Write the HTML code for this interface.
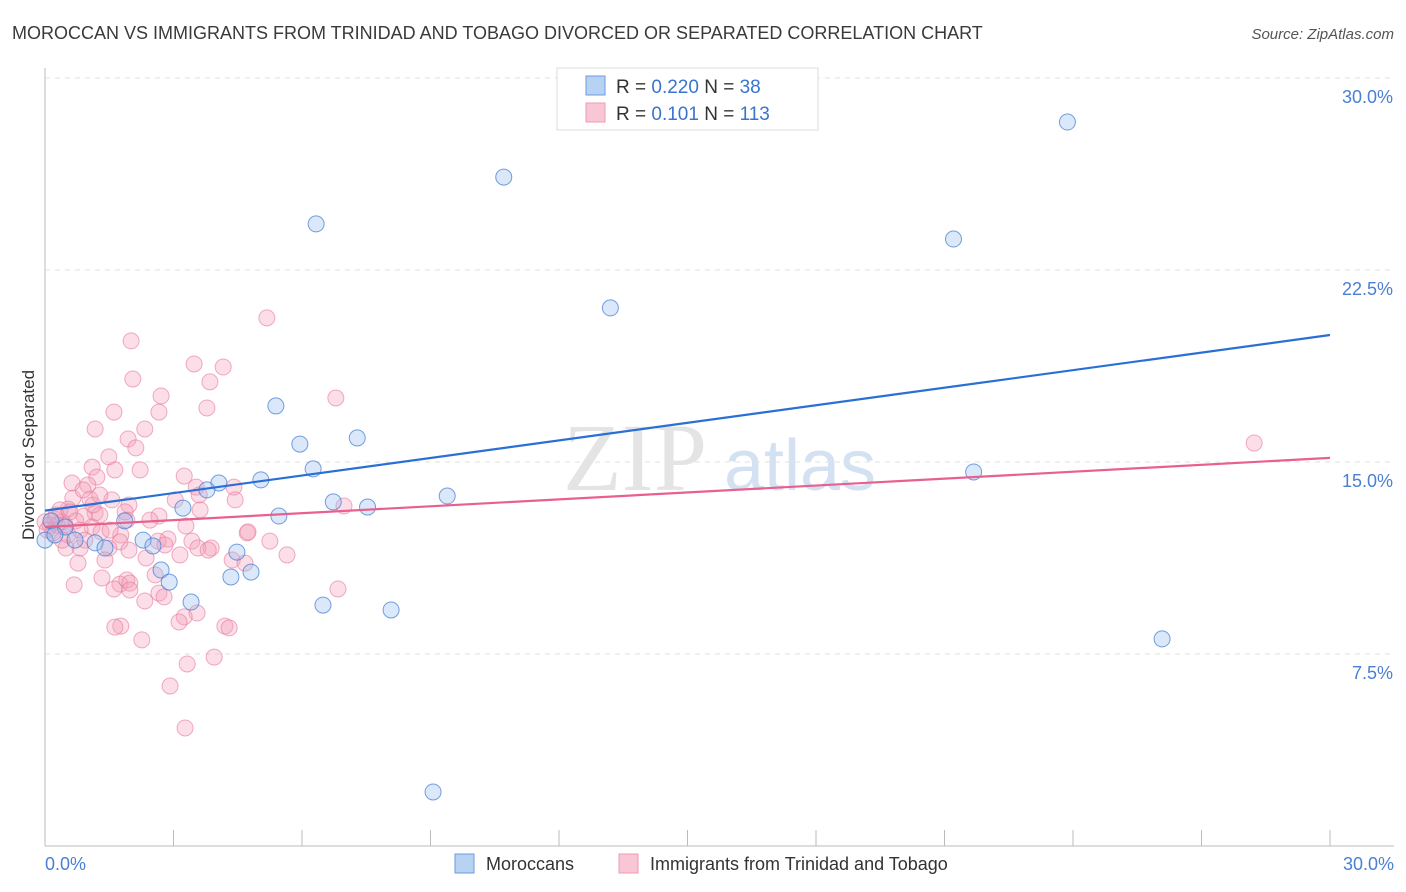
<!DOCTYPE html>
<html><head><meta charset="utf-8"><style>
body{margin:0;background:#fff;font-family:"Liberation Sans",sans-serif;}
svg{display:block}
</style></head><body>
<svg id="chart" width="1406" height="892" xmlns="http://www.w3.org/2000/svg">
<text x="12" y="39" font-size="18" fill="#3a3a3a">MOROCCAN VS IMMIGRANTS FROM TRINIDAD AND TOBAGO DIVORCED OR SEPARATED CORRELATION CHART</text>
<text x="1394" y="39" font-size="15" fill="#555" font-style="italic" text-anchor="end">Source: ZipAtlas.com</text>
<g>
<text x="635" y="490" font-size="96" fill="#e4e4e4" font-family="Liberation Serif,serif" text-anchor="middle">ZIP</text>
<text x="800" y="490" font-size="72" fill="#d3e1f2" text-anchor="middle">atlas</text>
</g>
<g id="grid"></g>
<g id="axes"></g>
<g id="pts"></g>
<g id="lines"></g>
<text x="34" y="455" font-size="17" fill="#333" text-anchor="middle" transform="rotate(-90 34 455)">Divorced or Separated</text>
<text x="45" y="870" font-size="18" fill="#4a7fd4">0.0%</text>
<text x="1394" y="870" font-size="18" fill="#4a7fd4" text-anchor="end">30.0%</text>
<g>
<rect x="557" y="68" width="261" height="62" fill="#fff" stroke="#ddd"/>
<rect x="586" y="76" width="19" height="19" fill="#b8d2f3" stroke="#6e9be0"/>
<rect x="586" y="103" width="19" height="19" fill="#f8c6d4" stroke="#ef9ab4"/>
<text x="616" y="93" font-size="19" fill="#333">R = <tspan fill="#3a74d0">0.220</tspan>   N =  <tspan fill="#3a74d0">38</tspan></text>
<text x="616" y="120" font-size="19" fill="#333">R =  <tspan fill="#3a74d0">0.101</tspan>   N = <tspan fill="#3a74d0">113</tspan></text>
</g>
<g>
<rect x="455" y="854" width="19" height="19" fill="#b8d2f3" stroke="#6e9be0"/>
<text x="486" y="870" font-size="18" fill="#333">Moroccans</text>
<rect x="619" y="854" width="19" height="19" fill="#f8c6d4" stroke="#ef9ab4"/>
<text x="650" y="870" font-size="18" fill="#333">Immigrants from Trinidad and Tobago</text>
</g>
</svg>
<script>
const yTicks=[7.5,15,22.5,30];
const yTickLabels=["7.5%","15.0%","22.5%","30.0%"];
const xTicks=[0,3,6,9,12,15,18,21,24,27,30];
// Moroccans [x%, y%]
const blueX=[23.87,10.71,6.33,21.21,13.2,5.39,7.29,5.95,6.26,5.04,4.06,3.78,21.68,9.39,6.73,7.53,3.22,5.46,1.86,0.14,0.47,0,0.7,1.17,2.29,1.4,2.52,4.48,2.71,4.81,4.34,2.9,3.41,6.49,8.08,51.67-25.59,9.06,0.23];
const blueY=[28.28,26.13,24.3,23.71,21.02,17.19,15.94,15.7,14.73,14.3,14.18,13.91,14.61,13.67,13.44,13.24,13.2,12.89,12.7,12.7,12.46,11.95,11.95,11.84,11.95,11.64,11.72,11.48,10.78,10.7,10.51,10.31,9.53,9.41,9.22,8.09,2.11,12.15];
// Trinidad and Tobago [x%, y%]
const pinkPts=[[267,318],[131,341],[194,364],[223,367],[133,379],[210,382],[336,398],[207,408],[159,412],[114,412],[95,429],[145,429],[128,439],[136,448],[109,457],[92,467],[97,477],[184,476],[88,485],[196,487],[72,483],[234,487],[199,495],[112,500],[90,499],[73,498],[129,505],[344,506],[68,509],[95,513],[84,516],[159,516],[127,520],[186,526],[62,522],[57,525],[45,522],[50,525],[55,519],[65,525],[76,521],[92,527],[80,530],[101,532],[121,535],[168,539],[247,533],[158,541],[270,541],[192,541],[120,542],[109,548],[211,548],[198,548],[129,550],[66,548],[287,555],[180,555],[232,560],[245,563],[78,563],[146,558],[102,578],[120,584],[74,585],[114,589],[159,593],[164,597],[127,580],[145,601],[338,589],[197,613],[184,617],[225,626],[179,622],[229,628],[121,626],[115,627],[142,640],[187,664],[214,657],[170,686],[185,728],[1254,443],[161,396],[248,532],[105,560],[130,583],[60,510],[85,540],[68,535],[53,533],[47,530],[62,540],[80,548],[100,515],[150,520],[175,500],[93,505],[140,470],[115,470],[83,490],[56,515],[70,512],[110,530],[125,512],[130,590],[200,510],[165,545],[155,575],[208,550],[235,500],[100,495]];
const pinkX=pinkPts.map(p=>+((p[0]-45)/1285*30).toFixed(2));
const pinkY=pinkPts.map(p=>+((846-p[1])/25.6).toFixed(2));
const blueLine=[13.1,19.96];
const pinkLine=[12.46,15.16];

const X=v=>45+v/30*1285, Y=v=>846-v*25.6;
const NS="http://www.w3.org/2000/svg";
function mk(tag,attrs,parent){const e=document.createElementNS(NS,tag);for(const k in attrs)e.setAttribute(k,attrs[k]);document.getElementById(parent).appendChild(e);return e;}
yTicks.forEach((t,i)=>{
 const g=mk('line',{x1:45,x2:1394,y1:Y(t),y2:Y(t),stroke:'#e2e2e2','stroke-dasharray':'5,5'},'grid');
 
 
 const l=mk('text',{x:1393,y:Y(t)+25,'font-size':18,fill:'#4a7fd4','text-anchor':'end'},'grid');
 l.textContent=yTickLabels[i];
 
 
});
const ya=mk('line',{x1:45,x2:45,y1:68,y2:846,stroke:'#bbb'},'axes');


const xa=mk('line',{x1:45,x2:1394,y1:846,y2:846,stroke:'#bbb'},'axes');


xTicks.forEach(t=>{
 const k=mk('line',{x1:X(t),x2:X(t),y1:830,y2:846,stroke:'#bbb'},'axes');
 
 
});
pinkX.forEach((x,i)=>{
 const c=mk('circle',{cx:X(x),cy:Y(pinkY[i]),r:8,fill:'rgba(244,160,186,0.35)',stroke:'rgba(232,120,155,0.6)','stroke-width':1},'pts');
 
 
});
blueX.forEach((x,i)=>{
 const c=mk('circle',{cx:X(x),cy:Y(blueY[i]),r:8,fill:'rgba(150,190,240,0.35)',stroke:'rgba(60,120,210,0.7)','stroke-width':1},'pts');
 
 
});
const bl=mk('line',{x1:X(0),y1:Y(blueLine[0]),x2:X(30),y2:Y(blueLine[1]),stroke:'#2a6fd6','stroke-width':2.2},'lines');


const pl=mk('line',{x1:X(0),y1:Y(pinkLine[0]),x2:X(30),y2:Y(pinkLine[1]),stroke:'#e8608e','stroke-width':2.2},'lines');


</script>
</body></html>
